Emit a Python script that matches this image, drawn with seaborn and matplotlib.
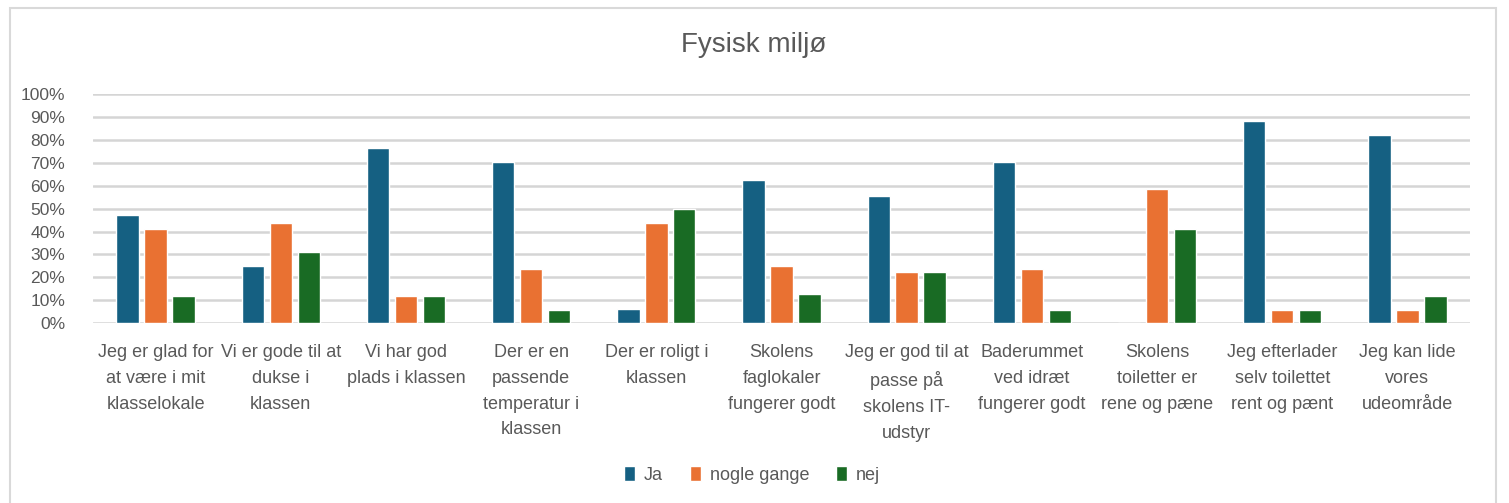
import matplotlib
matplotlib.use("Agg")
import matplotlib.pyplot as plt
import matplotlib.patches as mpatches
import seaborn as sns
import pandas as pd

# spørgsmål (x-akse), brudt som i det originale diagram
questions = [
    "Jeg er glad for\nat være i mit\nklasselokale",
    "Vi er gode til at\ndukse i\nklassen",
    "Vi har god\nplads i klassen",
    "Der er en\npassende\ntemperatur i\nklassen",
    "Der er roligt i\nklassen",
    "Skolens\nfaglokaler\nfungerer godt",
    "Jeg er god til at\npasse på\nskolens IT-\nudstyr",
    "Baderummet\nved idræt\nfungerer godt",
    "Skolens\ntoiletter er\nrene og pæne",
    "Jeg efterlader\nselv toilettet\nrent og pænt",
    "Jeg kan lide\nvores\nudeområde",
]

# andele i procent
ja = [47.1, 25.0, 76.5, 70.6, 6.25, 62.5, 55.6, 70.6, 0.0, 88.2, 82.4]
nogle_gange = [41.2, 43.75, 11.8, 23.5, 43.75, 25.0, 22.2, 23.5, 58.8, 5.9, 5.9]
nej = [11.8, 31.25, 11.8, 5.9, 50.0, 12.5, 22.2, 5.9, 41.2, 5.9, 11.8]

answers = ["Ja", "nogle gange", "nej"]
colors = ["#156082", "#E97132", "#196B24"]
yticks = [0, 10, 20, 30, 40, 50, 60, 70, 80, 90, 100]

rows = []
for i, q in enumerate(questions):
    for a, vals in zip(answers, [ja, nogle_gange, nej]):
        rows.append({"spm": q, "svar": a, "pct": vals[i]})
df = pd.DataFrame(rows)

sns.set_theme(style="white")
plt.rcParams["font.family"] = ["Liberation Sans", "DejaVu Sans"]
gray = "#595959"

W, H = 1509, 503
fig = plt.figure(figsize=(W / 100, H / 100), dpi=100)
ax = fig.add_axes([93 / W, (H - 323) / H, (1470 - 93) / W, (323 - 94.3) / H])

sns.barplot(data=df, x="spm", y="pct", hue="svar", order=questions,
            hue_order=answers, palette=colors, width=0.67, gap=0.2,
            saturation=1, ax=ax, legend=True)

ax.set_ylim(0, 100)
ax.set_yticks(yticks)
ax.set_yticklabels([f"{t}%" for t in yticks], fontsize=12.5, color=gray)
ax.set_xticks(range(len(questions)))
ax.set_xticklabels(questions, fontsize=13, color=gray, linespacing=1.68)
ax.tick_params(axis="x", length=0, pad=15)
ax.tick_params(axis="y", length=0, pad=20)
ax.set_xlabel("")
ax.set_ylabel("")
ax.set_xlim(-0.5, len(questions) - 0.5)
ax.yaxis.grid(True, color="#D5D5D5", linewidth=1.8)
ax.set_axisbelow(True)
for s in ax.spines.values():
    s.set_visible(False)

handles, labels = ax.get_legend_handles_labels()
ax.get_legend().remove()
fig.legend(handles, labels, loc="center", bbox_to_anchor=(752 / W, (H - 475) / H),
           ncol=3, frameon=False, fontsize=13, handlelength=0.6, handleheight=0.9,
           handletextpad=0.5, columnspacing=1.5, labelcolor=gray)

fig.text(754 / W, (H - 45) / H, "Fysisk miljø", ha="center", va="center",
         fontsize=20, color=gray)

# ramme om diagrammet
fig.patches.append(mpatches.Rectangle((10 / W, -0.05), (1496 - 10) / W, (H - 8) / H + 0.05,
                                      transform=fig.transFigure, fill=False,
                                      edgecolor="#D9D9D9", linewidth=1.5))

fig.savefig("out.png", dpi=100)
